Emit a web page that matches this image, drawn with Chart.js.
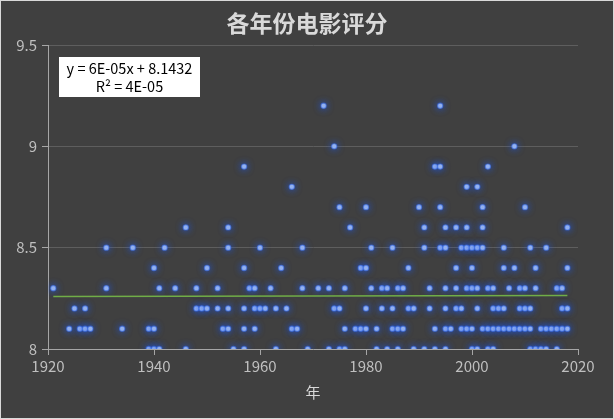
<!DOCTYPE html>
<html>
<head>
<meta charset="utf-8">
<script src="https://cdn.jsdelivr.net/npm/chart.js@4.4.1/dist/chart.umd.min.js"></script>
<style>
  html, body { margin: 0; padding: 0; background: #404040; }
  #ratingChart { display: block; }
</style>
</head>
<body>
<canvas id="ratingChart" width="614" height="419"></canvas>
<script>
// release years of the films, grouped by their rating
const years80 = [1939, 1940, 1941, 1946, 1955, 1957, 1963, 1969, 1973, 1975, 1976, 1982, 1984, 1986, 1989, 1991, 1993, 1995, 2000, 2001, 2003, 2004, 2011, 2012, 2013, 2014, 2016];
const years81 = [1924, 1926, 1927, 1928, 1934, 1939, 1940, 1953, 1954, 1957, 1959, 1966, 1967, 1976, 1978, 1979, 1980, 1982, 1985, 1986, 1987, 1993, 1995, 1996, 1998, 1999, 2000, 2002, 2003, 2004, 2005, 2006, 2007, 2008, 2009, 2010, 2011, 2013, 2014, 2015, 2016, 2017, 2018];
const years82 = [1925, 1927, 1948, 1949, 1950, 1952, 1954, 1957, 1959, 1960, 1961, 1963, 1965, 1974, 1975, 1980, 1983, 1985, 1988, 1989, 1992, 1995, 1997, 1998, 2001, 2004, 2005, 2006, 2009, 2010, 2011, 2017, 2018];
const years83 = [1921, 1931, 1941, 1944, 1948, 1952, 1958, 1959, 1962, 1968, 1971, 1973, 1976, 1981, 1983, 1984, 1986, 1987, 1992, 1995, 1997, 1999, 2000, 2001, 2003, 2004, 2007, 2009, 2010, 2012, 2016, 2017];
const years84 = [1940, 1950, 1957, 1964, 1979, 1980, 1988, 1997, 2000, 2006, 2008, 2012, 2018];
const years85 = [1931, 1936, 1942, 1954, 1960, 1968, 1981, 1985, 1991, 1994, 1995, 1998, 1999, 2000, 2001, 2002, 2006, 2011, 2014];
const years86 = [1946, 1954, 1977, 1991, 1995, 1997, 1999, 2002, 2018];
const years87 = [1975, 1980, 1990, 1994, 2002, 2010];
const years88 = [1966, 1999, 2001];
const years89 = [1957, 1993, 1994, 2003];
const years90 = [1974, 2008];
const years92 = [1972, 1994];

const ratings = [8.0, 8.1, 8.2, 8.3, 8.4, 8.5, 8.6, 8.7, 8.8, 8.9, 9.0, 9.2];
const yearsByRating = [years80, years81, years82, years83, years84, years85, years86, years87, years88, years89, years90, years92];

// linear trendline, y = 6E-05x + 8.1432
const trendYears = [1921, 2018];
const trendValues = [8.2585, 8.2643];
const trendLabel = ['y = 6E-05x + 8.1432', 'R² = 4E-05'];

const chartTitle = '各年份电影评分';
const xTicks = [1920, 1940, 1960, 1980, 2000, 2020];
const yTicks = [8, 8.5, 9, 9.5];

const points = [];
ratings.forEach((r, i) => {
    yearsByRating[i].forEach(yr => points.push({ x: yr, y: r }));
});

const fontFamily = '"Noto Sans CJK SC", "Noto Sans", sans-serif';

const decorations = {
    id: 'decorations',
    beforeDraw(chart) {
        const ctx = chart.ctx;
        ctx.save();
        ctx.fillStyle = '#404040';
        ctx.fillRect(0, 0, chart.width, chart.height);
        ctx.restore();
    },
    afterDraw(chart) {
        const ctx = chart.ctx;
        const area = chart.chartArea;
        ctx.save();
        // frame
        ctx.strokeStyle = '#d9d9d9';
        ctx.lineWidth = 1;
        ctx.strokeRect(0.5, 0.5, chart.width - 1, chart.height - 1);
        // title, centred on the whole picture
        ctx.fillStyle = '#d9d9d9';
        ctx.font = 'bold 23px ' + fontFamily;
        ctx.textAlign = 'center';
        ctx.textBaseline = 'middle';
        ctx.fillText(chartTitle, chart.width / 2, 23);
        // trendline label
        const bx = area.left + 11, by = area.top + 12;
        ctx.fillStyle = '#ffffff';
        ctx.fillRect(bx, by, 141, 40);
        ctx.fillStyle = '#000000';
        ctx.font = '14.5px ' + fontFamily;
        ctx.fillText(trendLabel[0], bx + 70.5, by + 11);
        ctx.fillText(trendLabel[1], bx + 70.5, by + 29);
        ctx.restore();
    }
};

// soft blue glow around the markers
const glow = {
    id: 'glow',
    beforeDatasetDraw(chart, args) {
        if (args.index !== 1) return;
        chart.ctx.save();
        chart.ctx.shadowColor = 'rgba(30, 90, 240, 1)';
        chart.ctx.shadowBlur = 7;
    },
    afterDatasetDraw(chart, args) {
        if (args.index !== 1) return;
        chart.ctx.restore();
    }
};

new Chart(document.getElementById('ratingChart'), {
    type: 'scatter',
    data: {
        datasets: [{
            type: 'line',
            data: trendYears.map((yr, i) => ({ x: yr, y: trendValues[i] })),
            borderColor: '#70ad47',
            borderWidth: 1.5,
            pointRadius: 0,
            showLine: true,
            fill: false
        }, {
            data: points,
            backgroundColor: '#a4bef0',
            borderColor: 'rgba(60, 110, 230, 0.6)',
            borderWidth: 1.2,
            pointRadius: 2.6
        }]
    },
    options: {
        responsive: false,
        animation: false,
        layout: { padding: { left: 0, right: 36, top: 45, bottom: 0 } },
        plugins: {
            legend: { display: false },
            tooltip: { enabled: false },
            title: { display: false }
        },
        scales: {
            x: {
                type: 'linear',
                min: 1920,
                max: 2020,
                afterBuildTicks: scale => { scale.ticks = xTicks.map(v => ({ value: v })); },
                afterFit: scale => { scale.height = 70; },
                grid: { drawOnChartArea: false, drawTicks: true, tickLength: 6, tickColor: '#a6a6a6' },
                border: { color: '#a6a6a6', width: 1 },
                ticks: {
                    color: '#bfbfbf',
                    padding: 2,
                    font: { family: fontFamily, size: 15 },
                    callback: v => String(v)
                },
                title: {
                    display: true,
                    text: '年',
                    color: '#d9d9d9',
                    font: { family: fontFamily, size: 15, lineHeight: 1.2 },
                    padding: { top: 0, bottom: 18 }
                }
            },
            y: {
                min: 8,
                max: 9.5,
                afterBuildTicks: scale => { scale.ticks = yTicks.map(v => ({ value: v })); },
                afterFit: scale => { scale.width = 48; },
                grid: { color: '#5e5e5e', drawTicks: true, tickLength: 6, tickColor: '#a6a6a6' },
                border: { color: '#a6a6a6', width: 1 },
                ticks: {
                    color: '#bfbfbf',
                    padding: 5,
                    font: { family: fontFamily, size: 15 },
                    callback: v => String(v)
                }
            }
        }
    },
    plugins: [decorations, glow]
});
</script>
</body>
</html>
